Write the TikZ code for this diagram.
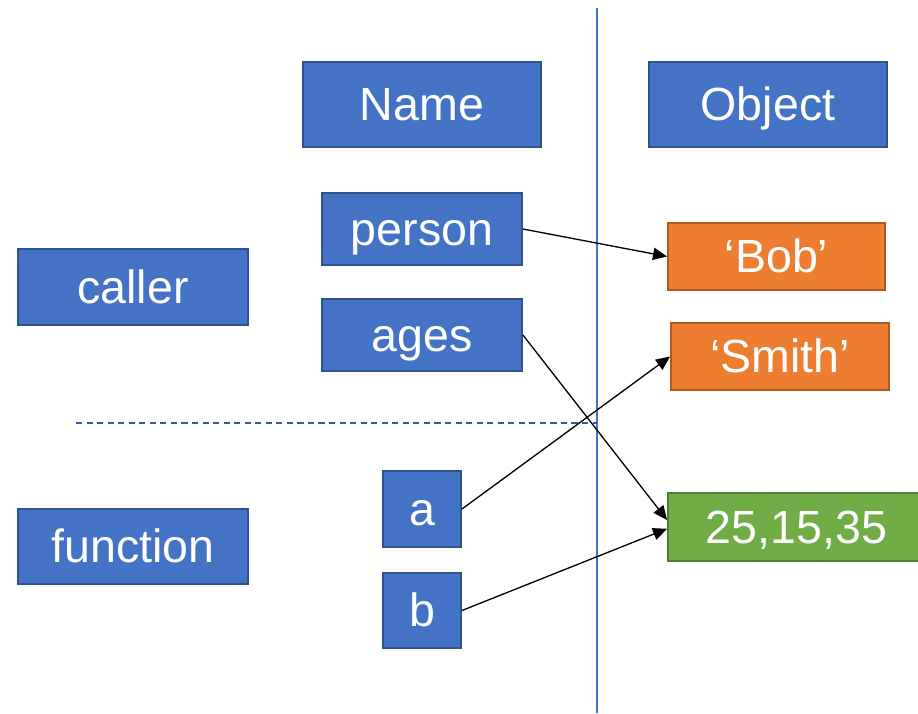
\documentclass[tikz,border=0pt]{standalone}
\usepackage{fontspec}
\setmainfont{Liberation Sans}
\usepackage{tikz}
\usetikzlibrary{arrows.meta}
\definecolor{BoxBlue}{HTML}{4472C4}
\definecolor{EdgeBlue}{HTML}{2F528F}
\definecolor{BoxOrange}{HTML}{ED7D31}
\definecolor{EdgeOrange}{HTML}{AE5A21}
\definecolor{BoxGreen}{HTML}{70AD47}
\definecolor{EdgeGreen}{HTML}{507E32}
\definecolor{Guide}{HTML}{4472C4}
\tikzset{
  cell/.style={draw=EdgeBlue, fill=BoxBlue, line width=1.1pt, text=white,
    inner sep=0pt, font=\fontsize{26.5}{32}\selectfont,
    text height=24pt, text depth=5.6pt},
  strobj/.style={cell, draw=EdgeOrange, fill=BoxOrange},
  listobj/.style={cell, draw=EdgeGreen, fill=BoxGreen},
  ref/.style={-{Triangle[length=8pt, width=7pt]}, line width=0.75pt, color=black},
  divider/.style={color=Guide, line width=0.7pt},
  scopeline/.style={color=Guide!80!black, line width=0.7pt, dash pattern=on 3.5pt off 2.5pt},
}

\begin{document}
\begin{tikzpicture}[x=0.02cm, y=-0.02cm]
  \useasboundingbox (0,0) rectangle (918,713);

  % guides
  \draw[divider] (597,8) -- (597,713);
  \draw[scopeline] (76,423) -- (597,423);

  % headings
  \node[cell, minimum width=4.76cm, minimum height=1.70cm] (name) at (422,104.5) {Name};
  \node[cell, minimum width=4.76cm, minimum height=1.70cm] (object) at (768,104.5) {Object};

  % scopes
  \node[cell, minimum width=4.6cm, minimum height=1.52cm] (caller) at (133,287) {caller};
  \node[cell, minimum width=4.6cm, minimum height=1.50cm] (function) at (133,546.5) {function};

  % names
  \node[cell, minimum width=4.0cm, minimum height=1.44cm] (person) at (422,229) {person};
  \node[cell, minimum width=4.0cm, minimum height=1.44cm] (ages) at (422,335) {ages};
  \node[cell, minimum width=1.56cm, minimum height=1.52cm] (a) at (422,509) {a};
  \node[cell, minimum width=1.56cm, minimum height=1.50cm] (b) at (422,610.5) {b};

  % objects
  \node[strobj, minimum width=4.34cm, minimum height=1.34cm] (bob) at (776.5,256.5) {‘Bob’};
  \node[strobj, minimum width=4.36cm, minimum height=1.34cm] (smith) at (780,356.5) {‘Smith’};
  \node[listobj, minimum width=5.14cm, minimum height=1.36cm] (nums) at (796.5,527) {25,15,35};

  % references
  \draw[ref] (person.east) -- (bob.west);
  \draw[ref] (ages.east) -- ([yshift=4pt]nums.west);
  \draw[ref] (a.east) -- (smith.west);
  \draw[ref] (b.east) -- ([yshift=-1pt]nums.west);
\end{tikzpicture}
\end{document}
